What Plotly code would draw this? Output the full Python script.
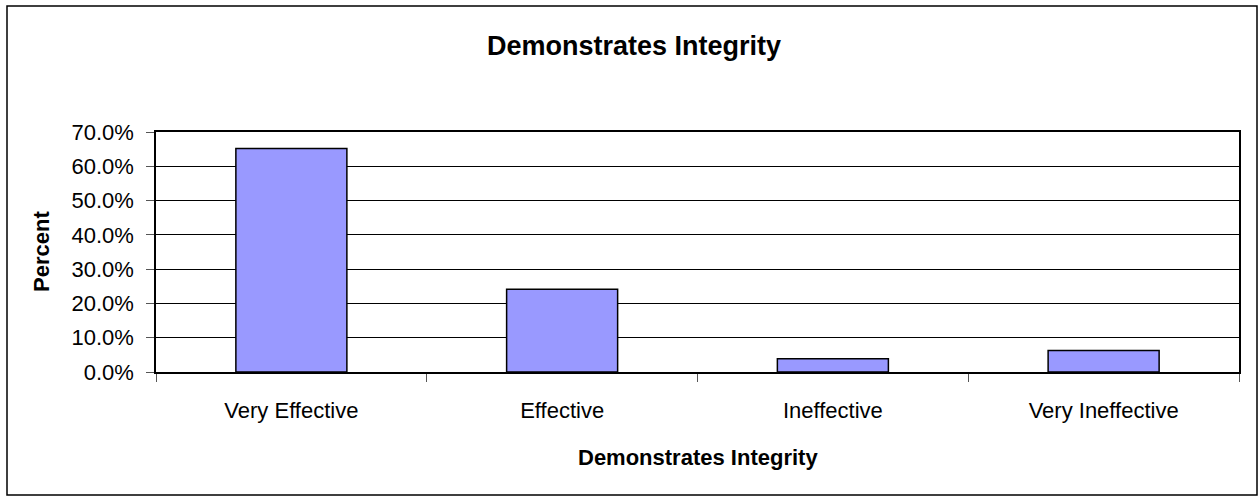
import plotly.graph_objects as go

# dados
categories = ["Very Effective", "Effective", "Ineffective", "Very Ineffective"]
percent = [0.652, 0.241, 0.039, 0.063]
y_ticks = [0, 0.1, 0.2, 0.3, 0.4, 0.5, 0.6, 0.7]

_FONT = "Liberation Sans, Arial, sans-serif"
_BAR = "#9999FF"

# geometria do gráfico (px) — área de plotagem 156..1239 x 132..372
_L, _R, _T, _B = 156, 1239, 132, 372
_W, _H = 1259, 497
_PW, _PH = _R - _L, _B - _T


def _px(x):
    return (x - _L) / _PW


def _py(y):
    return (_B - y) / _PH


fig = go.Figure(go.Bar(
    x=categories,
    y=percent,
    width=0.41,
    marker=dict(color=_BAR, line=dict(color="black", width=1.5)),
    hovertemplate="%{x}: %{y:.1%}<extra></extra>",
))

fig.update_layout(
    width=_W, height=_H,
    margin=dict(l=_L, r=_W - _R, t=_T, b=_H - _B),
    paper_bgcolor="white", plot_bgcolor="white",
    font=dict(family=_FONT, size=22, color="black"),
    showlegend=False,
    xaxis=dict(
        showline=True, linecolor="black", linewidth=1.5, mirror=True,
        ticks="outside", tickson="boundaries", ticklen=8, tickcolor="#555",
        tickfont=dict(size=22), showgrid=False, ticklabelstandoff=18,
    ),
    yaxis=dict(
        range=[0, 0.7], tickvals=y_ticks, tickformat=".1%",
        showline=True, linecolor="black", linewidth=1.5, mirror=True,
        ticks="outside", ticklen=8, tickcolor="#555",
        gridcolor="black", gridwidth=1, zeroline=False,
        tickfont=dict(size=22), ticklabelstandoff=8,
    ),
    shapes=[dict(
        type="rect", xref="paper", yref="paper",
        x0=_px(7), x1=_px(1257), y0=_py(495), y1=_py(6),
        line=dict(color="black", width=1.5), layer="below",
    )],
    annotations=[
        dict(text="<b>Demonstrates Integrity</b>", xref="paper", yref="paper",
             x=_px(634), y=_py(46), xanchor="center", yanchor="middle",
             showarrow=False, font=dict(size=27)),
        dict(text="<b>Demonstrates Integrity</b>", xref="paper", yref="paper",
             x=0.5, y=_py(457), xanchor="center", yanchor="middle",
             showarrow=False, font=dict(size=22)),
        dict(text="<b>Percent</b>", xref="paper", yref="paper",
             x=_px(41), y=0.5, xanchor="center", yanchor="middle",
             textangle=-90, showarrow=False, font=dict(size=22)),
    ],
)

# sem margem do body para a figura ocupar a janela inteira
fig.write_html("out.html", config={"displayModeBar": False},
               post_script="document.body.style.margin='0';")
